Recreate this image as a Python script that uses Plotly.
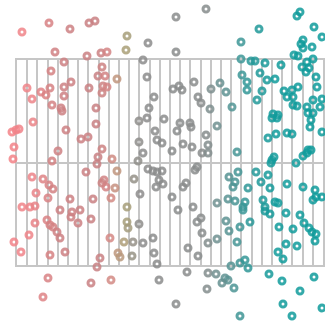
import plotly.graph_objects as go

# Point positions (horizontal offset and height, measured from the lower-left corner of the grid box)
x_vals = [
    5, 32, 53, 72, 78, 38, 70, 84, 90, 47, 34, 54, 85, 81, 88, 10, 15, 24, 29, 33,
    47, 47, 72, 85, 86, 90, 35, 44, 79, 189, 159, 110, 109, 131, 159, 126, 100, 130, 156, 162,
    165, 177, 137, 181, 184, 132, 194, 283, 280, 242, 297, 305, 224, 286, 284, 286, 295, 277, 281, 224,
    234, 238, 248, 264, 290, 296, 285, 292, 289, 243, 225, 230, 230, 250, 258, 299, 300, 203, 209, 245,
    267, 275, 281, 270, 276, 240, 215, 280, 276, 290, 296, 305, 303, 45, 16, 79, -5, -1, 2, 49,
    64, 71, -3, 41, -4, 35, 85, 81, 80, 69, 15, 26, 32, 36, 19, 31, 53, 76, 5, 13,
    18, 87, 85, 89, 122, 130, 147, 163, 173, 174, 138, 160, 122, 140, 145, 166, 175, 189, 126, 155,
    185, 191, 191, 95, 121, 131, 136, 140, 145, 100, 117, 142, 146, 178, 180, 169, 166, 139, 123, 155,
    98, 94, 110, 176, 193, 200, 256, 261, 255, 260, 291, 296, 294, 293, 305, 251, 259, 270, 275, 220,
    291, 294, 290, 286, 255, 257, 254, 279, 221, 212, 218, 216, 239, 251, 244, 270, 286, 231, 253, 298,
    299, 305, 211, 218, 200, 228, 226, 246, 248, 258, 261, 296, 43, 55, 54, 63, 18, 30, 33, 36,
    61, 74, 12, 40, 43, -3, 4, 33, 48, 83, 80, 31, 26, 74, 94, 161, 110, 111, 122, 93,
    107, 116, 126, 136, 101, 103, 115, 137, 140, 142, 171, 180, 184, 185, 181, 170, 159, 191, 191, 190,
    226, 248, 253, 269, 283, 287, 209, 212, 223, 233, 262, 276, 292, 295, 299, 298, 200, 220, 269, 280,
    261, 266, 214, 223, 228, 231, 199, 208, 211, 205, 217, 252, 265, 297, 283, 266, 305, 275, 223,
]
y_vals = [
    233, 242, 236, 242, 244, 213, 209, 212, 213, 203, 194, 183, 198, 189, 189, 177, 166, 173, 170, 177,
    178, 169, 177, 172, 179, 178, 160, 157, 157, 256, 248, 229, 215, 222, 213, 205, 186, 188, 176, 179,
    175, 183, 168, 168, 162, 157, 176, 253, 249, 236, 238, 228, 223, 225, 221, 217, 218, 210, 209, 206,
    204, 204, 202, 200, 203, 206, 198, 197, 193, 192, 190, 183, 175, 185, 186, 188, 178, 182, 173, 174,
    174, 175, 178, 168, 168, 165, 158, 159, 160, 158, 165, 166, 158, 154, 143, 141, 133, 135, 136, 135,
    126, 128, 118, 114, 106, 104, 116, 108, 101, 93, 88, 86, 80, 76, 72, 67, 66, 66, 58, 58,
    59, 85, 82, 78, 144, 147, 146, 142, 142, 138, 134, 134, 123, 125, 122, 121, 118, 130, 112, 114,
    112, 120, 112, 106, 104, 96, 94, 93, 94, 94, 86, 85, 81, 95, 98, 82, 78, 78, 71, 68,
    77, 67, 58, 58, 156, 139, 151, 150, 147, 147, 152, 152, 145, 138, 133, 127, 131, 132, 131, 113,
    115, 115, 112, 109, 105, 108, 102, 102, 93, 88, 83, 78, 93, 90, 83, 81, 78, 77, 77, 75,
    68, 68, 66, 64, 62, 63, 58, 65, 58, 63, 62, 65, 55, 53, 48, 55, 42, 45, 40, 38,
    42, 46, 30, 33, 27, 23, 13, 10, 13, 7, -2, -13, -32, -18, -15, 55, 43, 37, 41, 27,
    23, 23, 22, 27, 12, 8, 9, 12, 1, -15, 17, 43, 47, 32, 9, -7, -39, 22, -8, -24,
    55, 54, 51, 52, 50, 42, 44, 34, 38, 43, 38, 36, 37, 33, 31, 24, 26, 23, 21, 19,
    13, 6, -1, 2, 5, -3, -9, -13, -15, -18, -23, -9, -16, -12, -26, -39, -43, -51, -51,
]

# Grid box dimensions in the same units as the points
box_width = 306
box_height = 205
grid_cols = 30
grid_rows = 2

# Tone runs from salmon on the left through olive and grey to teal on the right
tone_scale = [
    [0.00, "rgb(247,130,135)"],
    [0.10, "rgb(238,132,136)"],
    [0.18, "rgb(206,128,130)"],
    [0.31, "rgb(200,128,130)"],
    [0.34, "rgb(216,134,134)"],
    [0.365, "rgb(190,150,126)"],
    [0.39, "rgb(170,160,118)"],
    [0.41, "rgb(150,146,134)"],
    [0.435, "rgb(140,140,140)"],
    [0.63, "rgb(136,140,140)"],
    [0.69, "rgb(96,146,146)"],
    [0.77, "rgb(40,152,152)"],
    [0.84, "rgb(18,155,155)"],
    [1.00, "rgb(14,155,155)"],
]

W, H = 325, 324
grid_color = "#c6c6c6"

fig = go.Figure()

# Invisible trace that anchors the grid box axes
fig.add_trace(go.Scatter(
    x=[0, box_width], y=[0, box_height], mode="markers",
    marker=dict(opacity=0), hoverinfo="skip", showlegend=False,
    xaxis="x", yaxis="y",
))

# Ring markers on a full-page pair of axes so they can spill past the box
fig.add_trace(go.Scatter(
    x=x_vals, y=y_vals, mode="markers",
    xaxis="x2", yaxis="y2", showlegend=False,
    marker=dict(
        symbol="circle-open", size=6,
        color=x_vals, colorscale=tone_scale, cmin=-20, cmax=310,
        line=dict(width=3), opacity=0.85,
    ),
))

box_left, box_bottom = 17, 59  # page offset of the box corner

fig.update_layout(
    width=W, height=H,
    margin=dict(l=0, r=0, t=0, b=0, pad=0),
    paper_bgcolor="white",
    plot_bgcolor="rgba(0,0,0,0)",
    xaxis=dict(
        domain=[box_left / W, (box_left + box_width) / W],
        range=[0, box_width], dtick=box_width / grid_cols, tick0=0,
        showgrid=True, gridcolor=grid_color, gridwidth=1.5,
        showline=True, mirror=True, linecolor=grid_color, linewidth=1.5,
        zeroline=False, showticklabels=False, ticks="", anchor="y",
        fixedrange=True,
    ),
    yaxis=dict(
        domain=[box_bottom / H, (box_bottom + box_height) / H],
        range=[0, box_height], dtick=box_height / grid_rows, tick0=0,
        showgrid=True, gridcolor=grid_color, gridwidth=1.5,
        showline=True, mirror=True, linecolor=grid_color, linewidth=1.5,
        zeroline=False, showticklabels=False, ticks="", anchor="x",
        fixedrange=True,
    ),
    xaxis2=dict(
        domain=[0, 1], range=[-box_left, W - box_left],
        visible=False, anchor="y2", fixedrange=True,
    ),
    yaxis2=dict(
        domain=[0, 1], range=[-box_bottom, H - box_bottom],
        visible=False, anchor="x2", fixedrange=True,
    ),
)

fig.write_html("out.html", config={"displayModeBar": False})
